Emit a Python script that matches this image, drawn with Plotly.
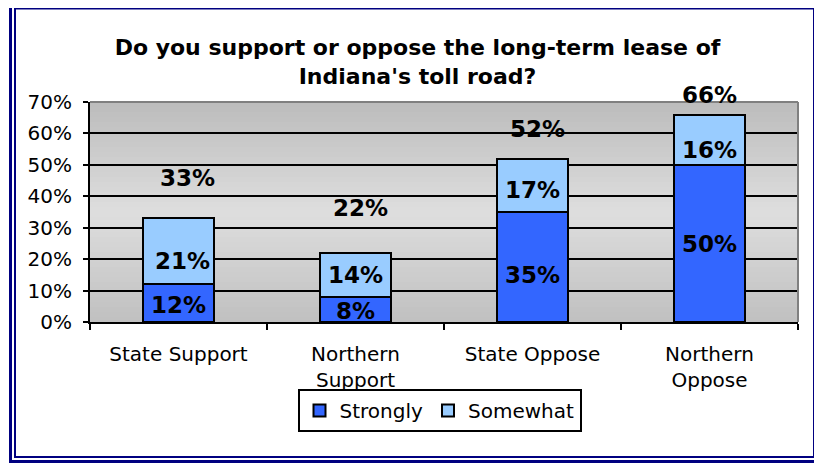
import plotly.graph_objects as go

# ---- data ----
categories = ["State Support", "Northern<br>Support", "State Oppose", "Northern<br>Oppose"]
strongly = [12, 8, 35, 50]
somewhat = [21, 14, 17, 16]
totals = [a + b for a, b in zip(strongly, somewhat)]
y_ticks = [0, 10, 20, 30, 40, 50, 60, 70]
y_tick_text = [f"{v}%" for v in y_ticks]

# ---- style ----
OFF = 8                      # page body margin
W, H = 822 - OFF, 466 - OFF  # figure size
L, R, T, B = 90 - OFF, 24, 102 - OFF, 144
PW, PH = W - L - R, H - T - B
C_STRONG = "#3366FF"
C_SOME = "#99CCFF"
FONT = "DejaVu Sans"

# small pixel offsets of the labels (style only)
strong_shift = [(0, -2), (0, -2), (0, -8), (0, -1)]
some_shift = [(4, -10), (0, 0), (0, -5), (0, -10)]
total_shift = [(9, 40), (5, 45), (5, 30), (0, 20)]


def px(x):
    """screen x pixel -> paper"""
    return (x - OFF - L) / PW


def py(y):
    """screen y pixel -> paper"""
    return (T + PH - (y - OFF)) / PH


fig = go.Figure()
fig.add_trace(go.Bar(
    x=categories, y=strongly, name="Strongly", width=0.4,
    marker=dict(color=C_STRONG, line=dict(color="black", width=2)),
    hoverinfo="skip"))
fig.add_trace(go.Bar(
    x=categories, y=somewhat, name="Somewhat", width=0.4,
    marker=dict(color=C_SOME, line=dict(color="black", width=2)),
    hoverinfo="skip"))

annotations = []
lab_font = dict(family=FONT, size=23, color="black")
for i, c in enumerate(categories):
    annotations.append(dict(x=c, y=strongly[i] / 2, text=f"<b>{strongly[i]}%</b>",
                            showarrow=False, font=lab_font,
                            xshift=strong_shift[i][0], yshift=strong_shift[i][1]))
    annotations.append(dict(x=c, y=strongly[i] + somewhat[i] / 2, text=f"<b>{somewhat[i]}%</b>",
                            showarrow=False, font=lab_font,
                            xshift=some_shift[i][0], yshift=some_shift[i][1]))
    annotations.append(dict(x=c, y=totals[i], text=f"<b>{totals[i]}%</b>",
                            showarrow=False, font=lab_font,
                            xshift=total_shift[i][0], yshift=total_shift[i][1]))

shapes = []
# vertical gray gradient in plot area (dark - light - dark)
N = 44


def gray(t):
    if t <= 0.5:
        v = 0xC0 + (0xDE - 0xC0) * (t / 0.5)
    else:
        v = 0xDE + (0xBC - 0xDE) * ((t - 0.5) / 0.5)
    v = int(round(v))
    return f"rgb({v},{v},{v})"


for k in range(N):
    shapes.append(dict(type="rect", xref="x domain", yref="y domain",
                       x0=0, x1=1, y0=k / N, y1=(k + 1) / N + 0.002, layer="below",
                       line=dict(width=0), fillcolor=gray((k + 0.5) / N)))
# gray top/right plot border
shapes.append(dict(type="line", xref="paper", yref="paper", x0=0, x1=1, y0=1, y1=1,
                   line=dict(color="#808080", width=2)))
shapes.append(dict(type="line", xref="paper", yref="paper", x0=1, x1=1, y0=0, y1=1,
                   line=dict(color="#808080", width=2)))
# outer double navy frame
shapes.append(dict(type="rect", xref="paper", yref="paper",
                   x0=px(10.5), x1=px(818.5), y0=py(4.5), y1=py(461.5),
                   line=dict(color="#000080", width=3)))
shapes.append(dict(type="rect", xref="paper", yref="paper",
                   x0=px(15), x1=px(814), y0=py(8.5), y1=py(457),
                   line=dict(color="#000080", width=2)))

fig.update_layout(
    width=W, height=H,
    margin=dict(l=L, r=R, t=T, b=B),
    paper_bgcolor="white", plot_bgcolor="#D0D0D0",
    barmode="stack", bargap=0.6,
    font=dict(family=FONT, size=20, color="black"),
    title=dict(text="<b>Do you support or oppose the long-term lease of<br>Indiana's toll road?</b>",
               x=(417.5 - OFF) / W, xanchor="center", xref="container",
               y=1 - (55 - OFF) / H, yanchor="middle", yref="container",
               font=dict(family=FONT, size=22, color="black")),
    xaxis=dict(type="category", showline=True, linecolor="black", linewidth=2,
               ticks="outside", tickson="boundaries", ticklen=6, tickwidth=2, tickcolor="black",
               showgrid=False, tickfont=dict(size=20), ticklabelstandoff=13),
    yaxis=dict(range=[0, 70], tickvals=y_ticks, ticktext=y_tick_text, showline=True,
               linecolor="black", linewidth=2, ticks="outside", ticklen=5, tickwidth=2,
               tickcolor="black", showgrid=True, gridcolor="black", gridwidth=1.5,
               zeroline=False, tickfont=dict(size=20), ticklabelstandoff=7),
    legend=dict(orientation="h", x=px(439.5), xanchor="center", y=py(389), yanchor="top",
                bordercolor="black", borderwidth=2, bgcolor="white",
                font=dict(size=20), traceorder="normal"),
    annotations=annotations,
    shapes=shapes,
    showlegend=True,
)

fig.write_html("out.html")
